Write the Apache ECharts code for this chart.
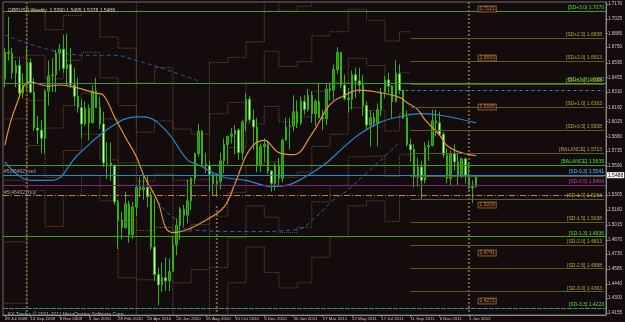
<!DOCTYPE html>
<html>
<head>
<meta charset="utf-8">
<script src="https://cdn.jsdelivr.net/npm/echarts@6/dist/echarts.min.js"></script>
<style>
html, body { margin: 0; padding: 0; background: #140c0c; }
#chart { width: 625px; height: 322px; }
</style>
</head>
<body>
<div id="chart"></div>
<script>
// weekly slots, the last 35 are the empty shift area on the right
var weeks = [];
var d0 = Date.UTC(2009, 6, 26);
for (var i = 0; i < 165; i++) {
    weeks.push(new Date(d0 + i * 7 * 864e5).toISOString().slice(0, 10));
}

var tickIdx = [0, 7, 15, 23, 31, 39, 47, 55, 63, 71, 79, 87, 95, 103, 111, 119, 127];
var tickLabels = ['29 Jul 2009', '13 Sep 2009', '8 Nov 2009', '3 Jan 2010', '28 Feb 2010', '25 Apr 2010',
    '20 Jun 2010', '15 Aug 2010', '10 Oct 2010', '5 Dec 2010', '30 Jan 2011', '27 Mar 2011',
    '22 May 2011', '17 Jul 2011', '11 Sep 2011', '6 Nov 2011', '1 Jan 2012'];
var priceTicks = [1.7170, 1.7025, 1.6885, 1.6750, 1.6595, 1.6455, 1.6310, 1.6160, 1.6025, 1.5880,
    1.5735, 1.5590, 1.5305, 1.5160, 1.5015, 1.4870, 1.4730, 1.4585, 1.4440, 1.4300, 1.4155];

var opens = [1.6440,1.6700,1.6690,1.6500,1.6570,1.6300,1.6380,1.6600,1.6310,1.5960,
    1.5940,1.5860,1.6320,1.6470,1.6480,1.6690,1.6730,1.6540,1.6580,1.6380,
    1.6270,1.6160,1.6000,1.6150,1.6010,1.6320,1.6160,1.6000,1.5620,1.5620,
    1.5590,1.5240,1.5060,1.4990,1.5220,1.4920,1.5190,1.5380,1.5360,1.5380,
    1.5290,1.4800,1.4530,1.4430,1.4500,1.4470,1.4560,1.4820,1.5010,1.5170,
    1.5110,1.5250,1.5470,1.5710,1.5930,1.5610,1.5590,1.5510,1.5420,1.5440,
    1.5640,1.5800,1.5880,1.5900,1.5940,1.5720,1.6020,1.6240,1.6040,1.5970,
    1.5600,1.5780,1.5800,1.5540,1.5420,1.5600,1.5470,1.5840,1.5970,1.5980,
    1.6120,1.6010,1.6220,1.6140,1.6280,1.6100,1.6220,1.6060,1.6050,1.6340,
    1.6330,1.6530,1.6700,1.6380,1.6250,1.6240,1.6480,1.6420,1.6380,1.6180,
    1.5990,1.6060,1.6010,1.6140,1.6310,1.6430,1.6370,1.6220,1.6490,1.6330,
    1.6060,1.5800,1.5750,1.5480,1.5580,1.5450,1.5780,1.5790,1.6030,1.6010,
    1.5900,1.5700,1.5470,1.5710,1.5630,1.5490,1.5660,1.5500,1.5380,1.5390];
var closes = [1.6700,1.6690,1.6500,1.6570,1.6300,1.6380,1.6600,1.6310,1.5960,1.5940,
    1.5860,1.6320,1.6470,1.6480,1.6690,1.6730,1.6540,1.6580,1.6380,1.6270,
    1.6160,1.6000,1.6150,1.6010,1.6320,1.6160,1.6000,1.5620,1.5620,1.5590,
    1.5240,1.5060,1.4990,1.5220,1.4920,1.5190,1.5380,1.5360,1.5380,1.5290,
    1.4800,1.4530,1.4430,1.4500,1.4470,1.4560,1.4820,1.5010,1.5170,1.5110,
    1.5250,1.5470,1.5710,1.5930,1.5610,1.5590,1.5510,1.5420,1.5440,1.5640,
    1.5800,1.5880,1.5900,1.5940,1.5720,1.6020,1.6240,1.6040,1.5970,1.5600,
    1.5780,1.5800,1.5540,1.5420,1.5600,1.5470,1.5840,1.5970,1.5980,1.6120,
    1.6010,1.6220,1.6140,1.6280,1.6100,1.6220,1.6060,1.6050,1.6340,1.6330,
    1.6530,1.6700,1.6380,1.6250,1.6240,1.6480,1.6420,1.6380,1.6180,1.5990,
    1.6060,1.6010,1.6140,1.6310,1.6430,1.6370,1.6220,1.6490,1.6330,1.6060,
    1.5800,1.5750,1.5480,1.5580,1.5450,1.5780,1.5790,1.6030,1.6010,1.5900,
    1.5700,1.5470,1.5710,1.5630,1.5490,1.5660,1.5500,1.5380,1.5390,1.5488];
var highs = [1.6740,1.7043,1.6740,1.6620,1.6640,1.6490,1.6740,1.6640,1.6450,1.6080,
    1.6040,1.6340,1.6620,1.6640,1.6720,1.6780,1.6870,1.6880,1.6740,1.6550,
    1.6450,1.6240,1.6220,1.6190,1.6380,1.6450,1.6260,1.6120,1.5820,1.5820,
    1.5610,1.5260,1.5140,1.5340,1.5250,1.5240,1.5410,1.5480,1.5500,1.5490,
    1.5340,1.5270,1.4600,1.4650,1.4700,1.4690,1.4900,1.5080,1.5190,1.5210,
    1.5460,1.5480,1.5720,1.6000,1.5940,1.5720,1.5640,1.5510,1.5520,1.5720,
    1.5860,1.5880,1.5960,1.5990,1.5960,1.6040,1.6300,1.6270,1.6140,1.6060,
    1.5810,1.5860,1.5840,1.5550,1.5620,1.5670,1.5860,1.6060,1.6060,1.6280,
    1.6230,1.6270,1.6280,1.6340,1.6320,1.6240,1.6400,1.6140,1.6400,1.6400,
    1.6580,1.6750,1.6700,1.6480,1.6350,1.6520,1.6550,1.6550,1.6480,1.6220,
    1.6130,1.6110,1.6200,1.6350,1.6470,1.6500,1.6380,1.6620,1.6580,1.6330,
    1.6130,1.5860,1.5800,1.5670,1.5640,1.5820,1.5840,1.6140,1.6140,1.6120,
    1.5920,1.5760,1.5740,1.5800,1.5720,1.5670,1.5670,1.5620,1.5450,1.5495];
var lows = [1.6360,1.6620,1.6440,1.6360,1.6250,1.6250,1.6330,1.6300,1.5930,1.5800,
    1.5710,1.5710,1.6180,1.6310,1.6310,1.6520,1.6500,1.6380,1.6350,1.6180,
    1.6110,1.5860,1.5980,1.5840,1.6010,1.6160,1.5950,1.5580,1.5460,1.5440,
    1.5210,1.4780,1.4880,1.4980,1.4840,1.4880,1.5100,1.5290,1.5260,1.5190,
    1.4770,1.4470,1.4230,1.4360,1.4370,1.4370,1.4560,1.4720,1.4870,1.5000,
    1.5030,1.5160,1.5410,1.5680,1.5580,1.5520,1.5340,1.5300,1.5290,1.5360,
    1.5520,1.5610,1.5810,1.5700,1.5650,1.5650,1.5930,1.6010,1.5750,1.5530,
    1.5530,1.5630,1.5510,1.5340,1.5350,1.5400,1.5430,1.5840,1.5750,1.5930,
    1.5960,1.5990,1.6090,1.6120,1.6010,1.5980,1.6050,1.5940,1.5990,1.6230,
    1.6230,1.6490,1.6350,1.6230,1.6110,1.6140,1.6250,1.6300,1.6080,1.5950,
    1.5780,1.5970,1.5780,1.6080,1.6250,1.6300,1.6060,1.6210,1.6290,1.6050,
    1.5780,1.5630,1.5380,1.5390,1.5270,1.5420,1.5640,1.5780,1.5880,1.5900,
    1.5670,1.5420,1.5400,1.5550,1.5400,1.5470,1.5420,1.5360,1.5230,1.5378];

// indicator lines as [week, price]
var maFast = [[0,1.579],[3,1.617],[7,1.641],[12,1.637],[15,1.638],[19,1.636],[25,1.630],[27,1.628],
    [30,1.607],[33,1.587],[36,1.568],[38,1.550],[42,1.523],[44,1.499],[46,1.494],[50,1.497],
    [55,1.506],[60,1.519],[63,1.542],[67,1.575],[71,1.584],[75,1.572],[79,1.570],[84,1.590],
    [89,1.619],[93,1.628],[97,1.633],[102,1.631],[108,1.626],[110,1.621],[113,1.614],[115,1.604],
    [119,1.589],[121,1.579],[124,1.573],[129,1.569]];
var maSlow = [[0,1.563],[7,1.545],[13,1.545],[20,1.570],[29,1.597],[36,1.607],[38,1.607],[44,1.594],
    [50,1.565],[53,1.560],[60,1.548],[66,1.545],[73,1.539],[77,1.540],[82,1.548],[88,1.562],
    [92,1.575],[97,1.590],[103,1.602],[108,1.607],[114,1.610],[120,1.608],[129,1.601]];
var bandUpper = [[0,1.687],[22,1.667],[30,1.667],[36,1.662],[45,1.652],[53,1.642]];
var bandLower = [[40,1.536],[43,1.519],[47,1.506],[50,1.497],[67,1.495],[80,1.497],[85,1.509],
    [90,1.526],[94,1.536],[108,1.582]];

// earlier steps of the SD bands: start week of each step, its balance and its band gap
// (the step that starts at week 111 is drawn as the olive levels on the right)
var stepStart = [0, 6, 11, 16, 21, 26, 31, 36, 41, 46, 51, 56, 61, 66, 71, 75, 80, 84, 89, 94, 99, 104, 108];
var stepBase = [1.575, 1.645, 1.620, 1.640, 1.650, 1.625, 1.590, 1.520, 1.525, 1.470, 1.480, 1.535,
    1.555, 1.580, 1.590, 1.575, 1.580, 1.605, 1.615, 1.640, 1.635, 1.615, 1.630];
var stepGap = [0.030, 0.022, 0.024, 0.022, 0.020, 0.020, 0.028, 0.024, 0.026, 0.025, 0.022, 0.025,
    0.022, 0.020, 0.027, 0.027, 0.027, 0.027, 0.025, 0.024, 0.022, 0.022, 0.020];
var stepBands = [-5, -3, -1, 1, 3, 5];
var stepEnd = 111;
var vLines = [[6, 1.719, 1.4136], [58, 1.5200, 1.4136], [127, 1.719, 1.4136]];

// horizontal levels
var fullLevels = [1.7070, 1.6350, 1.5639, 1.5541, 1.5404, 1.4936, 1.4223];
var fullLevelText = ['[SD+3.0] 1.7070', '[SD+1.3] 1.6350', '[BALANCE] 1.5639', '[SD-0.3] 1.5541',
    '[SD-0.5] 1.5404', '[SD-1.3] 1.4936', '[SD-3.3] 1.4223'];
var fullLevelColor = ['#3f9e16', '#3f9e16', '#3f9e16', '#2a86c8', '#8a1c8a', '#3f9e16', '#3f9e16'];
var fullLevelText2 = ['#4fe02a', '#4fe02a', '#4fe02a', '#49c8ff', '#c040c0', '#4fe02a', '#4fe02a'];
var fullLevelType = ['solid', 'solid', 'solid', 'solid', 'solid', 'solid', 'dashed'];
var sdLevels = [1.6838, 1.6613, 1.6388, 1.6163, 1.5938, 1.5713, 1.5488, 1.5263, 1.5038, 1.4813, 1.4588, 1.4363];
var sdLevelText = ['[SD+2.5] 1.6838', '[SD+2.0] 1.6613', '[SD+1.5] 1.6388', '[SD+1.0] 1.6163',
    '[SD+0.5] 1.5938', '[BALANCE] 1.5713', '', '[SD-1.0] 1.5263', '[SD-1.5] 1.5038',
    '[SD-2.0] 1.4813', '[SD-2.5] 1.4588', '[SD-3.0] 1.4363'];
var boxLevels = [1.7121, 1.6643, 1.6165, 1.5209, 1.4741, 1.4273];
var orderLevels = [1.5492, 1.5272];
var orderText = ['#5(65462) sell', '#5(46462) buy'];
var lastPrice = 1.5488;

var chart = echarts.init(document.getElementById('chart'));
var candleData = opens.map(function (o, i) { return [o, closes[i], lows[i], highs[i]]; });
var tinyFont = 'Liberation Sans';

var markData = [];
fullLevels.forEach(function (v, i) {
    markData.push({
        yAxis: v,
        lineStyle: { color: fullLevelColor[i], type: fullLevelType[i], width: 1 },
        label: { show: true, position: 'insideEndTop', formatter: fullLevelText[i], color: fullLevelText2[i],
            fontSize: 5, fontFamily: tinyFont, distance: [2, 1] }
    });
});
sdLevels.forEach(function (v, i) {
    var st = { lineStyle: { color: '#5e5a18', type: 'solid', width: 1 },
        label: { show: sdLevelText[i] !== '', position: 'insideEndTop', formatter: sdLevelText[i], color: '#b0a838',
            fontSize: 5, fontFamily: tinyFont, distance: [2, 1] } };
    markData.push([Object.assign({ xAxis: 111, yAxis: v }, st), Object.assign({ xAxis: 164, yAxis: v }, st)]);
});
markData.push([{ xAxis: 108, yAxis: 1.6330, lineStyle: { color: '#2a86c8', type: [3, 3], width: 1 }, label: { show: false } },
    { xAxis: 164, yAxis: 1.6330 }]);
markData.push({ yAxis: 1.4215, lineStyle: { color: '#2a86c8', type: 'dotted', width: 1 }, label: { show: false } });
orderLevels.forEach(function (v, i) {
    markData.push({
        yAxis: v,
        lineStyle: { color: i === 0 ? '#2a86c8' : '#c08040', type: [6, 2, 1, 2], width: 1 },
        label: { show: true, position: 'insideStartTop', formatter: orderText[i], color: '#a0a0a0',
            fontSize: 5, fontFamily: tinyFont, distance: [1, 1] }
    });
});
markData.push({
    yAxis: lastPrice,
    lineStyle: { color: 'transparent' },
    label: { show: true, position: 'end', formatter: lastPrice.toFixed(4), color: '#000', backgroundColor: '#ffffff',
        padding: [1, 1, 0, 1], fontSize: 5, fontFamily: tinyFont, distance: 1 }
});

function pathSeries(pts, color, type, width) {
    return {
        type: 'line', data: pts, showSymbol: false, symbol: 'none', silent: true, z: 2,
        lineStyle: { color: color, type: type, width: width }, animation: false
    };
}

var series = [];
stepBands.forEach(function (k) {
    var pts = stepStart.map(function (x, j) { return [x, stepBase[j] + k * stepGap[j]]; });
    pts.push([stepEnd, pts[pts.length - 1][1]]);
    series.push(Object.assign(pathSeries(pts, '#6e5030', 'dotted', 1), { step: 'end', z: 1 }));
});
vLines.forEach(function (v) {
    series.push(pathSeries([[v[0], v[1]], [v[0], v[2]]], '#7d5c36', 'dotted', 2));
});
series.push({
    type: 'line', data: [], silent: true, z: 1,
    markLine: { symbol: 'none', silent: true, animation: false, data: markData }
});
series.push(Object.assign(pathSeries(bandUpper, '#1d5f9a', [4, 3], 1), { smooth: 0.4 }));
series.push(Object.assign(pathSeries(bandLower, '#1d6aa8', [4, 3], 1), { smooth: 0.4 }));
series.push({
    type: 'candlestick', data: candleData, barWidth: 2, silent: true, z: 3,
    itemStyle: { color: '#238a06', color0: '#d0fcc6', borderColor: '#38b012', borderColor0: '#38b012', borderWidth: 1 }
});
series.push(Object.assign(pathSeries(maSlow, '#2a86c8', 'solid', 1.2), { smooth: 0.4, z: 4 }));
series.push(Object.assign(pathSeries(maFast, '#e0913a', 'solid', 1.2), { smooth: 0.4, z: 4 }));
series.push({
    type: 'scatter', data: boxLevels.map(function (v) { return [132, v]; }), symbolSize: 1, silent: true, z: 5,
    itemStyle: { color: 'transparent' },
    label: { show: true, position: 'inside', formatter: function (p) { return p.value[1].toFixed(4); },
        color: '#d89a58', backgroundColor: '#1e1208', borderColor: '#9a6430', borderWidth: 1,
        padding: [0, 1], fontSize: 5, fontFamily: tinyFont }
});

chart.setOption({
    backgroundColor: '#140c0c',
    animation: false,
    title: [
        { text: 'GBPUSD,Weekly  1.5390 1.5495 1.5378 1.5488', left: 3, top: 3,
            textStyle: { color: '#c8c8c8', fontSize: 5, fontWeight: 'normal', fontFamily: tinyFont } },
        { text: 'FX Trader, © 2001-2011 MetaQuotes Software Corp.', left: 3, top: 307,
            textStyle: { color: '#a8a8a8', fontSize: 5, fontWeight: 'normal', fontFamily: tinyFont } }
    ],
    grid: { left: 3, right: 17, top: 2, bottom: 7, show: true, borderColor: '#6a6a6a', borderWidth: 1 },
    xAxis: {
        type: 'category', data: weeks, boundaryGap: true,
        axisLine: { lineStyle: { color: '#8a8a8a' } },
        axisTick: { show: true, alignWithLabel: true, length: 2, lineStyle: { color: '#8a8a8a' },
            interval: function (i) { return tickIdx.indexOf(i) >= 0; } },
        axisLabel: {
            color: '#c8c8c8', fontSize: 4.4, fontFamily: tinyFont, margin: 2, align: 'left',
            showMinLabel: true, hideOverlap: false,
            interval: function (i) { return tickIdx.indexOf(i) >= 0; },
            formatter: function (v, i) { var k = tickIdx.indexOf(i); return k >= 0 ? tickLabels[k] : ''; }
        },
        splitLine: { show: false }
    },
    yAxis: {
        type: 'value', position: 'right', min: 1.4136, max: 1.7190, scale: true,
        axisLine: { show: true, lineStyle: { color: '#8a8a8a' } },
        axisTick: { show: true, length: 2, customValues: priceTicks, lineStyle: { color: '#8a8a8a' } },
        axisLabel: { color: '#c8c8c8', fontSize: 4.6, fontFamily: tinyFont, margin: 2, customValues: priceTicks,
            formatter: function (v) { return v.toFixed(4); } },
        splitLine: { show: false }
    },
    series: series
});
</script>
</body>
</html>
